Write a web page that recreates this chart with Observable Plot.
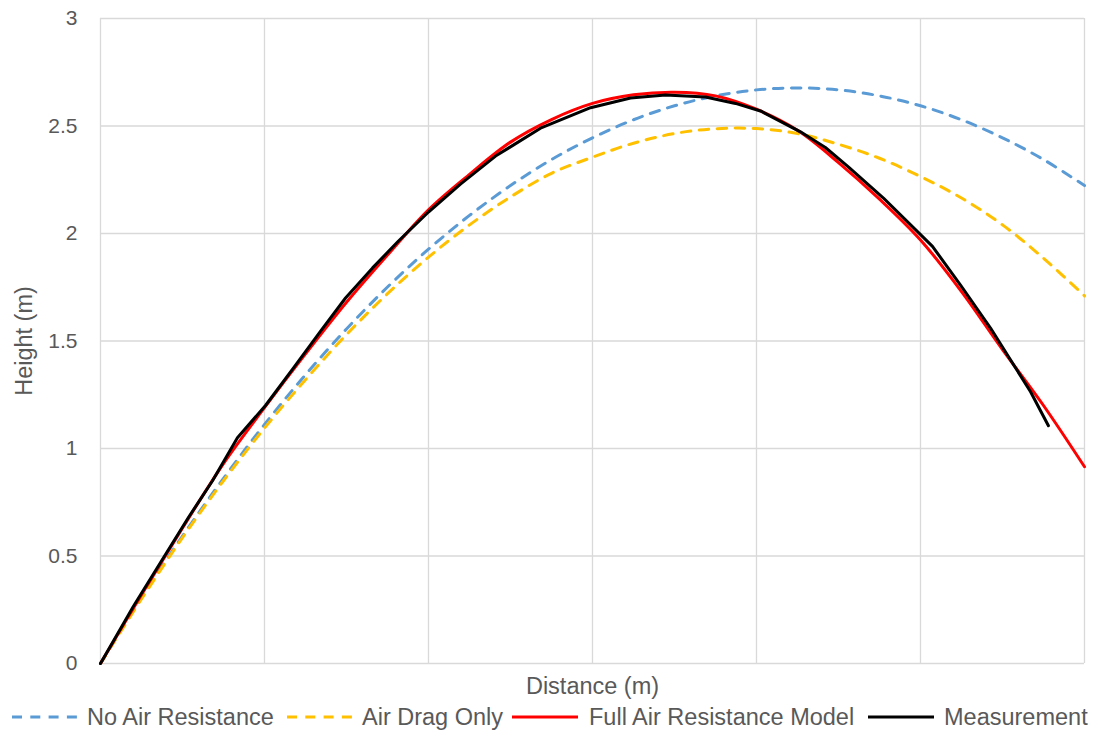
<!DOCTYPE html>
<html>
<head>
<meta charset="utf-8">
<script src="https://cdn.jsdelivr.net/npm/d3@7"></script>
<script src="https://cdn.jsdelivr.net/npm/@observablehq/plot@0.6"></script>
<style>
  body { margin: 0; background: #fff; }
  #chart { position: relative; width: 1094px; height: 732px; font-family: "Liberation Sans", Arial, sans-serif; }
  #legend { position: absolute; left: 0; top: 704px; width: 1094px; height: 26px; }
  .label { position: absolute; top: 0; height: 26px; line-height: 26px; font-size: 23.5px; color: #595959; white-space: nowrap; }
</style>
</head>
<body>
<div id="chart"><div id="legend"></div></div>
<script>
// Horizontal distance (m) at which the model curves are sampled
const modelDistance = [0, 0.25, 0.5, 0.75, 1, 1.25, 1.5, 1.75, 2, 2.25, 2.5, 2.75, 3,
  3.25, 3.5, 3.75, 4, 4.25, 4.5, 4.75, 5, 5.25, 5.5, 5.75, 6];

// Height (m) predicted without any air resistance
const noAirHeight = [0, 0.306, 0.593, 0.861, 1.112, 1.343, 1.556, 1.751, 1.927, 2.084, 2.223, 2.344, 2.445,
  2.529, 2.594, 2.640, 2.668, 2.677, 2.668, 2.640, 2.594, 2.529, 2.445, 2.344, 2.223];

// Height (m) predicted with air drag only
const dragOnlyHeight = [0, 0.30, 0.585, 0.85, 1.095, 1.32, 1.53, 1.72, 1.89, 2.04, 2.17, 2.28, 2.355,
  2.42, 2.465, 2.487, 2.488, 2.465, 2.415, 2.35, 2.265, 2.165, 2.04, 1.885, 1.71];

// Height (m) predicted by the full air resistance model
const fullModelHeight = [0, 0.32, 0.63, 0.93, 1.19, 1.44, 1.68, 1.90, 2.11, 2.275, 2.425, 2.53, 2.605,
  2.645, 2.657, 2.64, 2.578, 2.48, 2.33, 2.16, 1.97, 1.73, 1.46, 1.20, 0.915];

// Measured trajectory
const measuredDistance = [0, 0.20, 0.366, 0.537, 0.683, 0.835, 1.006, 1.177, 1.341, 1.494, 1.659,
  1.817, 2.0, 2.195, 2.409, 2.683, 2.988, 3.232, 3.445, 3.689, 3.872, 4.024, 4.268, 4.42,
  4.56, 4.774, 5.073, 5.244, 5.427, 5.671, 5.78];
const measuredHeight = [0, 0.265, 0.47, 0.68, 0.85, 1.05, 1.20, 1.375, 1.545, 1.70, 1.84,
  1.965, 2.10, 2.23, 2.36, 2.49, 2.585, 2.63, 2.644, 2.635, 2.605, 2.57, 2.473, 2.40,
  2.31, 2.165, 1.94, 1.76, 1.56, 1.264, 1.106];

// Axis ticks
const heightTicks = [0, 0.5, 1, 1.5, 2, 2.5, 3];
const distanceGrid = [0, 1, 2, 3, 4, 5, 6];

const series = [
  {name: "No Air Resistance", color: "#5B9BD5", dash: "9.5,8.5", y: noAirHeight},
  {name: "Air Drag Only", color: "#FFC000", dash: "9.5,8.5", y: dragOnlyHeight},
  {name: "Full Air Resistance Model", color: "#FF0000", dash: null, y: fullModelHeight}
];

const gridStyle = {stroke: "#d9d9d9", strokeOpacity: 1, strokeWidth: 1.3};
const textColor = "#595959";

const chart = Plot.plot({
  width: 1094,
  height: 700,
  marginLeft: 100,
  marginRight: 10,
  marginTop: 18,
  marginBottom: 37,
  style: {fontFamily: '"Liberation Sans", Arial, sans-serif', color: textColor, background: "white", overflow: "visible"},
  x: {domain: [0, 6], axis: null},
  y: {domain: [0, 3]},
  marks: [
    Plot.gridX(distanceGrid, gridStyle),
    Plot.gridY(heightTicks, gridStyle),
    Plot.axisY(heightTicks, {tickSize: 0, tickPadding: 23, fontSize: 21, label: null, fill: textColor, tickFormat: d => String(d)}),
    ...series.map(s => Plot.line(modelDistance, {
      x: d => d,
      y: (d, i) => s.y[i],
      stroke: s.color,
      strokeWidth: 3,
      strokeDasharray: s.dash ?? undefined,
      curve: "catmull-rom"
    })),
    Plot.line(measuredDistance, {
      x: d => d,
      y: (d, i) => measuredHeight[i],
      stroke: "#000000",
      strokeWidth: 3,
      strokeLinejoin: "round"
    }),
    Plot.text(["Height (m)"], {
      text: d => d, frameAnchor: "left", dx: -76, rotate: -90,
      textAnchor: "middle", lineAnchor: "middle", fontSize: 23.5, fill: textColor
    }),
    Plot.text(["Distance (m)"], {
      text: d => d, frameAnchor: "bottom", dy: 23,
      textAnchor: "middle", lineAnchor: "middle", fontSize: 23.5, fill: textColor
    })
  ]
});

const root = document.getElementById("chart");
root.insertBefore(chart, root.firstChild);

// Legend row below the plot
const legendItems = [
  {name: "No Air Resistance", color: "#5B9BD5", dash: "10,8.3", sample: 12, text: 87},
  {name: "Air Drag Only", color: "#FFC000", dash: "10,8.3", sample: 287, text: 362},
  {name: "Full Air Resistance Model", color: "#FF0000", dash: null, sample: 512, text: 589},
  {name: "Measurement", color: "#000000", dash: null, sample: 868, text: 944}
];
const legend = d3.select("#legend");
for (const it of legendItems) {
  const svg = legend.append("svg")
    .attr("width", 66).attr("height", 26)
    .style("position", "absolute").style("left", it.sample + "px").style("top", "0px");
  svg.append("line")
    .attr("x1", 0).attr("x2", 66).attr("y1", 13).attr("y2", 13)
    .attr("stroke", it.color).attr("stroke-width", 3)
    .attr("stroke-dasharray", it.dash);
  legend.append("div").attr("class", "label").style("left", it.text + "px").text(it.name);
}
</script>
</body>
</html>
